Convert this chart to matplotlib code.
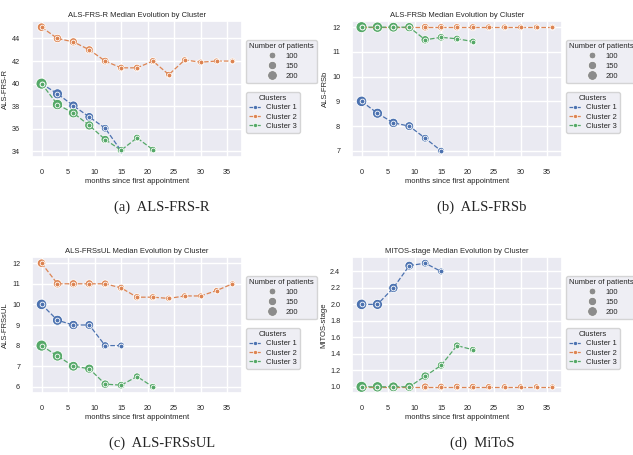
import matplotlib
matplotlib.use("Agg")
import matplotlib.pyplot as plt
import seaborn as sns
from matplotlib.lines import Line2D

months = [0, 3, 6, 9, 12, 15, 18, 21, 24, 27, 30, 33, 36]
cluster_names = ["Cluster 1", "Cluster 2", "Cluster 3"]
cluster_colors = ["#4C72B0", "#DD8452", "#55A868"]

# number of patients still followed at each visit
patients_c1 = [200, 185, 160, 145, 115, 95]
patients_c2 = [135, 130, 125, 120, 110, 100, 100, 95, 85, 80, 75, 75, 70]
patients_c3 = [220, 195, 175, 155, 130, 110, 100, 90]

frs_c1 = [40, 39.1, 38.05, 37.05, 36.05, 34.05]
frs_c2 = [45, 44, 43.7, 43, 42, 41.4, 41.4, 42, 40.8, 42.1, 41.9, 42, 42]
frs_c3 = [40, 38.15, 37.4, 36.3, 35.05, 34.1, 35.2, 34.15]

frsb_c1 = [9, 8.52, 8.13, 8, 7.51, 7]
frsb_c2 = [12] * 13
frsb_c3 = [12, 12, 12, 12, 11.49, 11.59, 11.53, 11.42]

frsul_c1 = [10, 9.23, 9, 9, 8, 8]
frsul_c2 = [12, 11, 11, 11, 11, 10.8, 10.35, 10.35, 10.29, 10.41, 10.41, 10.67, 11]
frsul_c3 = [8, 7.5, 7, 6.88, 6.13, 6.08, 6.5, 6]

mitos_c1 = [2.0, 2.0, 2.2, 2.47, 2.5, 2.4]
mitos_c2 = [1.0] * 13
mitos_c3 = [1.0, 1.0, 1.0, 1.0, 1.13, 1.26, 1.5, 1.45]

panels = [
    ("ALS-FRS-R", "(a)  ALS-FRS-R", [frs_c1, frs_c2, frs_c3], [34, 36, 38, 40, 42, 44]),
    ("ALS-FRSb", "(b)  ALS-FRSb", [frsb_c1, frsb_c2, frsb_c3], [7, 8, 9, 10, 11, 12]),
    ("ALS-FRSsUL", "(c)  ALS-FRSsUL", [frsul_c1, frsul_c2, frsul_c3], [6, 7, 8, 9, 10, 11, 12]),
    ("MITOS-stage", "(d)  MiToS", [mitos_c1, mitos_c2, mitos_c3], [1.0, 1.2, 1.4, 1.6, 1.8, 2.0, 2.2, 2.4]),
]
legend_sizes = [100, 150, 200]

sns.set_theme(style="darkgrid")
plt.rcParams["font.family"] = ["Liberation Sans", "DejaVu Sans"]

W, H = 633, 455
fig = plt.figure(figsize=(W / 100, H / 100), dpi=100)
fig.patch.set_facecolor("white")


def area(n):
    return n * 0.3 - 3


def draw_panel(left, top, title, caption, series, yticks):
    ax = fig.add_axes([left / W, 1 - (top + 136) / H, 210 / W, 136 / H])
    counts = [patients_c1, patients_c2, patients_c3]
    for vals, cnt, col in zip(series, counts, cluster_colors):
        x = months[:len(vals)]
        ax.scatter(x, vals, s=[area(c) for c in cnt[:len(vals)]], color=col,
                   edgecolor="white", linewidth=0.6, zorder=2)
    for vals, col in zip(series, cluster_colors):
        x = months[:len(vals)]
        ax.plot(x, vals, linestyle="--", color=col, linewidth=0.9, marker="o",
                markersize=3.4, markeredgecolor="white", markeredgewidth=0.6, zorder=3)
    ax.set_xticks([0, 5, 10, 15, 20, 25, 30, 35])
    ax.set_yticks(yticks)
    if isinstance(yticks[0], float):
        ax.set_yticklabels([f"{t:.1f}" for t in yticks])
    ax.tick_params(labelsize=5.2, pad=2.5)
    ax.set_title(f"{title} Median Evolution by Cluster", fontsize=5.5, pad=3)
    ax.set_xlabel("months since first appointment", fontsize=5.5, labelpad=1.5)
    ax.set_ylabel(title, fontsize=5.5, labelpad=2)

    size_handles = [Line2D([], [], linestyle="", marker="o", color="0.55",
                           markersize=(n * 0.25 - 2) ** 0.5, markeredgecolor="white",
                           markeredgewidth=0.5)
                    for n in legend_sizes]
    leg1 = ax.legend(size_handles, [str(n) for n in legend_sizes], title="Number of patients",
                     loc="upper left", bbox_to_anchor=((left + 214) / W, 1 - (top + 19) / H),
                     bbox_transform=fig.transFigure, fontsize=5.5, title_fontsize=5.5,
                     borderaxespad=0, labelspacing=0.35, handletextpad=0.8, borderpad=0.4)
    ax.add_artist(leg1)
    cl_handles = [Line2D([], [], linestyle="--", color=c, linewidth=0.9, marker="o",
                         markersize=3.0, markeredgecolor="white", markeredgewidth=0.5)
                  for c in cluster_colors]
    ax.legend(cl_handles, cluster_names, title="Clusters", loc="upper left",
              bbox_to_anchor=((left + 214) / W, 1 - (top + 71) / H),
              bbox_transform=fig.transFigure, fontsize=5.5, title_fontsize=5.5,
              borderaxespad=0, labelspacing=0.25, handlelength=1.6, handletextpad=0.6,
              borderpad=0.4)
    fig.text((left + 130) / W, 1 - (top + 186) / H, caption, fontsize=10.5,
             family="Liberation Serif", ha="center", va="center")


draw_panel(32, 21, *panels[0])
draw_panel(352, 21, *panels[1])
draw_panel(32, 257, *panels[2])
draw_panel(352, 257, *panels[3])

fig.savefig("out.png", dpi=100)
